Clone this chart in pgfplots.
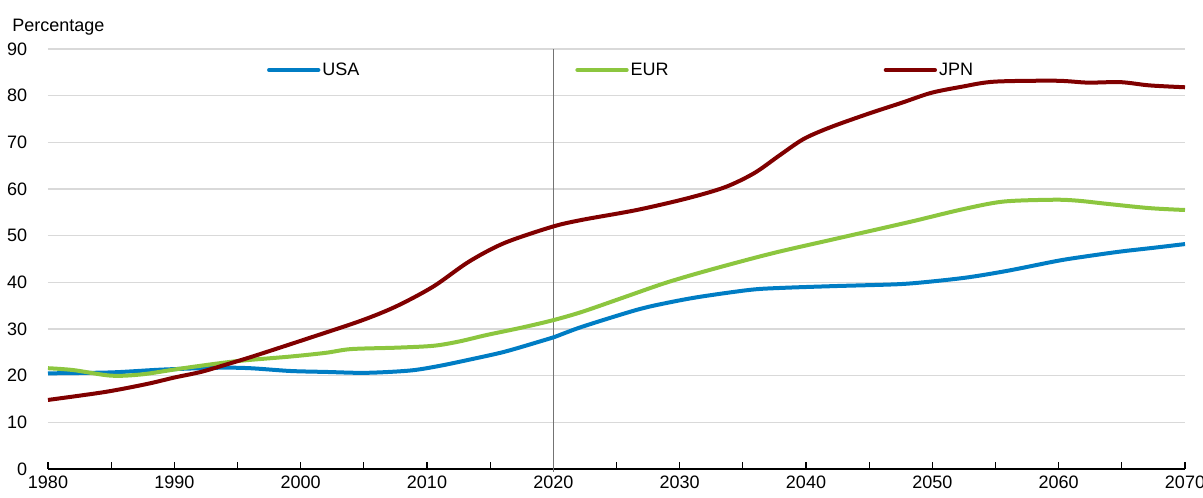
\documentclass[border=0pt]{standalone}
\usepackage{pgfplots}
\pgfplotsset{compat=1.18}
\usepackage{fontspec}
\setmainfont{Liberation Sans}
\definecolor{cusa}{RGB}{0,125,196}
\definecolor{ceur}{RGB}{140,198,63}
\definecolor{cjpn}{RGB}{128,0,0}
\definecolor{cgrid}{RGB}{217,217,217}
\begin{document}
\begin{tikzpicture}
\begin{axis}[
  scale only axis,
  width=852.75pt, height=315pt,
  xmin=1980, xmax=2070, ymin=0, ymax=90,
  font=\fontsize{13.5}{16}\selectfont,
  /pgf/number format/assume math mode=true,
  /pgf/number format/1000 sep={},
  xtick={1980,1990,...,2070},
  minor xtick={1985,1995,...,2065},
  ytick={0,10,...,90},
  axis x line=bottom, axis y line=left,
  x axis line style={-, black, line width=0.9pt},
  y axis line style={draw=none},
  ytick style={draw=none},
  xtick style={black, line width=0.9pt},
  tick align=inside,
  major tick length=5pt, minor tick length=5pt,
  ymajorgrids, grid style={cgrid, line width=1pt},
  xticklabel style={inner sep=0pt, anchor=north, yshift=-5pt},
  yticklabel style={inner sep=0pt, anchor=east, xshift=-15.5pt},
  legend columns=3,
  legend style={draw=none, fill=none, at={(0.504,0.95)}, anchor=center,
    /tikz/every even column/.append style={column sep=0pt},
    nodes={inner sep=1.5pt}},
  legend image code/.code={\draw[#1, line cap=round] (0pt,0pt) -- (37pt,0pt);},
  every axis plot/.append style={line width=3pt, line join=round},
  clip=false,
]
\addplot[forget plot, line width=1pt, black!55] coordinates {(2020,-0.6) (2020,90)};
\addplot[cusa, smooth] coordinates {
(1980,20.5)(1985,20.7)(1989,21.3)(1993.5,21.7)(1996,21.6)(1999.2,21.0)(2002,20.8)(2004.8,20.6)(2007,20.8)(2009,21.2)(2011,22.1)(2013.3,23.4)(2016.1,25.1)(2018.9,27.3)(2020,28.2)(2022.3,30.5)(2026.6,34.1)(2029,35.6)(2031.6,36.9)(2035.6,38.4)(2038,38.8)(2042.3,39.2)(2047.3,39.6)(2050,40.2)(2052.9,41.1)(2056,42.5)(2059.9,44.6)(2062,45.5)(2064.9,46.6)(2067.5,47.4)(2070,48.2)};
\addlegendentry{\makebox[188.25pt][l]{USA}}
\addplot[ceur, smooth] coordinates {
(1980,21.6)(1982,21.2)(1985,20.0)(1987.5,20.3)(1990.7,21.6)(1994.9,23.1)(1999.2,24.1)(2002,24.9)(2004,25.7)(2007.6,26.0)(2010.5,26.4)(2012.5,27.3)(2014.7,28.7)(2017.5,30.3)(2020,31.9)(2022.3,33.7)(2025.6,36.8)(2028.9,39.9)(2032.3,42.6)(2037.3,46.2)(2042.3,49.3)(2048.3,53.0)(2052.3,55.6)(2055.6,57.3)(2059.6,57.7)(2061.5,57.5)(2063.9,56.8)(2067.2,55.9)(2070,55.5)};
\addlegendentry{\makebox[188.25pt][l]{EUR}}
\addplot[cjpn, smooth] coordinates {
(1980,14.8)(1984.5,16.5)(1987.8,18.2)(1990,19.6)(1992.1,20.8)(1994,22.3)(1996.3,24.2)(2000.6,28.0)(2004.8,31.8)(2007.6,34.9)(2010.5,39.1)(2013.3,44.4)(2016.1,48.4)(2019.9,51.9)(2022.3,53.4)(2026.6,55.5)(2030.6,58.0)(2033.6,60.4)(2035.9,63.4)(2037.9,67.2)(2039.8,70.7)(2041.9,73.2)(2044.9,76.1)(2047.6,78.5)(2049.9,80.6)(2052.3,81.9)(2054.9,83.0)(2059.8,83.2)(2062.3,82.8)(2064.9,82.9)(2067.2,82.2)(2070,81.8)};
\addlegendentry{JPN}
\node[anchor=west, inner sep=0pt] at ([xshift=-27pt,yshift=16.5pt]rel axis cs:0,1) {Percentage};
\end{axis}
\pgfresetboundingbox
\useasboundingbox (-36pt,-21pt) rectangle (866.25pt,351.75pt);
\end{tikzpicture}
\end{document}
